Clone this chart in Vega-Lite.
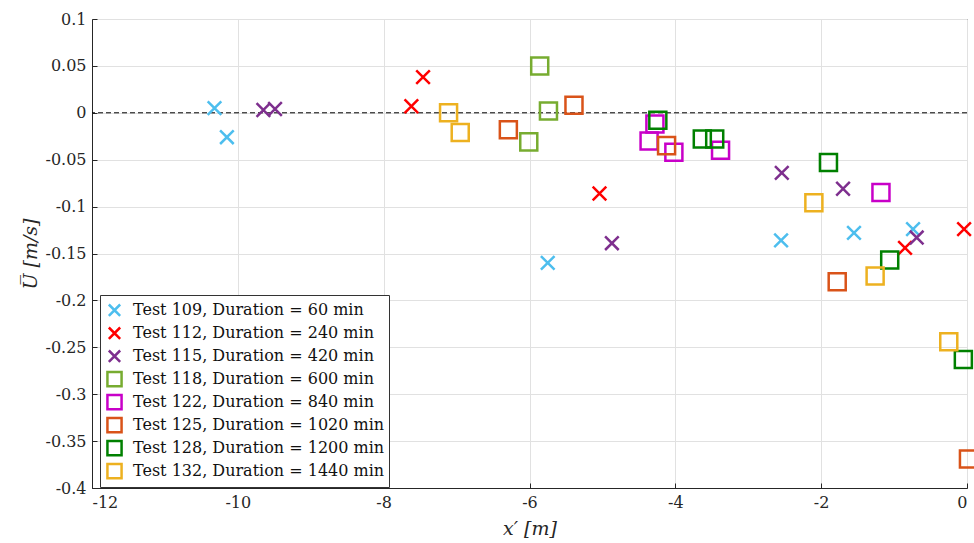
{
  "$schema": "https://vega.github.io/schema/vega-lite/v6.json",
  "width": 875,
  "height": 469,
  "autosize": {"type": "none"},
  "padding": {"left": 92, "top": 19, "right": 7, "bottom": 55},
  "background": "white",
  "config": {
    "view": {"stroke": "#262626", "strokeWidth": 1},
    "font": "DejaVu Serif",
    "axis": {
      "labelFont": "DejaVu Serif",
      "labelFontSize": 16,
      "labelColor": "#262626",
      "titleFont": "DejaVu Serif",
      "titleFontSize": 19,
      "titleFontWeight": "normal",
      "titleFontStyle": "italic",
      "titleColor": "#262626",
      "domainColor": "#262626",
      "tickColor": "#262626",
      "gridColor": "#e1e1e1",
      "gridWidth": 1
    },
    "legend": {
      "labelFont": "DejaVu Serif",
      "labelFontSize": 16,
      "labelColor": "#111111"
    }
  },
  "datasets": {
    "obs": [
      {"series": "Test 109, Duration = 60 min", "x": -10.32, "u": 0.005},
      {"series": "Test 109, Duration = 60 min", "x": -10.15, "u": -0.026},
      {"series": "Test 109, Duration = 60 min", "x": -5.75, "u": -0.160},
      {"series": "Test 109, Duration = 60 min", "x": -2.55, "u": -0.136},
      {"series": "Test 109, Duration = 60 min", "x": -1.55, "u": -0.128},
      {"series": "Test 109, Duration = 60 min", "x": -0.74, "u": -0.124},
      {"series": "Test 112, Duration = 240 min", "x": -7.46, "u": 0.038},
      {"series": "Test 112, Duration = 240 min", "x": -7.62, "u": 0.007},
      {"series": "Test 112, Duration = 240 min", "x": -5.04, "u": -0.086},
      {"series": "Test 112, Duration = 240 min", "x": -0.85, "u": -0.144},
      {"series": "Test 112, Duration = 240 min", "x": -0.04, "u": -0.124},
      {"series": "Test 115, Duration = 420 min", "x": -9.65, "u": 0.003},
      {"series": "Test 115, Duration = 420 min", "x": -9.49, "u": 0.004},
      {"series": "Test 115, Duration = 420 min", "x": -4.87, "u": -0.139},
      {"series": "Test 115, Duration = 420 min", "x": -2.54, "u": -0.064},
      {"series": "Test 115, Duration = 420 min", "x": -1.70, "u": -0.081},
      {"series": "Test 115, Duration = 420 min", "x": -0.69, "u": -0.133},
      {"series": "Test 118, Duration = 600 min", "x": -5.86, "u": 0.050},
      {"series": "Test 118, Duration = 600 min", "x": -5.74, "u": 0.002},
      {"series": "Test 118, Duration = 600 min", "x": -6.01, "u": -0.031},
      {"series": "Test 122, Duration = 840 min", "x": -4.28, "u": -0.012},
      {"series": "Test 122, Duration = 840 min", "x": -4.36, "u": -0.030},
      {"series": "Test 122, Duration = 840 min", "x": -4.02, "u": -0.042},
      {"series": "Test 122, Duration = 840 min", "x": -3.38, "u": -0.040},
      {"series": "Test 122, Duration = 840 min", "x": -1.18, "u": -0.085},
      {"series": "Test 125, Duration = 1020 min", "x": -6.29, "u": -0.018},
      {"series": "Test 125, Duration = 1020 min", "x": -5.39, "u": 0.008},
      {"series": "Test 125, Duration = 1020 min", "x": -4.12, "u": -0.035},
      {"series": "Test 125, Duration = 1020 min", "x": -1.78, "u": -0.180},
      {"series": "Test 125, Duration = 1020 min", "x": 0.02, "u": -0.369},
      {"series": "Test 128, Duration = 1200 min", "x": -4.24, "u": -0.008},
      {"series": "Test 128, Duration = 1200 min", "x": -3.63, "u": -0.028},
      {"series": "Test 128, Duration = 1200 min", "x": -3.46, "u": -0.028},
      {"series": "Test 128, Duration = 1200 min", "x": -1.90, "u": -0.053},
      {"series": "Test 128, Duration = 1200 min", "x": -1.06, "u": -0.157},
      {"series": "Test 128, Duration = 1200 min", "x": -0.05, "u": -0.263},
      {"series": "Test 132, Duration = 1440 min", "x": -7.11, "u": 0.000},
      {"series": "Test 132, Duration = 1440 min", "x": -6.95, "u": -0.021},
      {"series": "Test 132, Duration = 1440 min", "x": -2.10, "u": -0.096},
      {"series": "Test 132, Duration = 1440 min", "x": -1.26, "u": -0.174},
      {"series": "Test 132, Duration = 1440 min", "x": -0.25, "u": -0.244}
    ],
    "zero": [{"u": 0}]
  },
  "layer": [
    {
      "data": {"name": "zero"},
      "mark": {"type": "rule", "color": "black", "strokeWidth": 1, "strokeDash": [5, 3]},
      "encoding": {
        "y": {"field": "u", "type": "quantitative", "scale": {"domain": [-0.4, 0.1], "nice": false}}
      }
    },
    {
      "data": {"name": "obs"},
      "mark": {"type": "point", "filled": false, "strokeWidth": 2.5, "size": 290, "opacity": 1, "clip": false},
      "encoding": {
        "x": {
          "field": "x",
          "type": "quantitative",
          "scale": {"domain": [-12, 0], "nice": false, "zero": false},
          "axis": {
            "title": "x′ [m]",
            "values": [-12, -10, -8, -6, -4, -2, 0],
            "tickSize": -5,
            "labelPadding": 11,
            "titlePadding": 9,
            "format": "~g",
            "labelExpr": "replace(datum.label, '−', '-')"
          }
        },
        "y": {
          "field": "u",
          "type": "quantitative",
          "scale": {"domain": [-0.4, 0.1], "nice": false, "zero": false},
          "axis": {
            "title": "U̅ [m/s]",
            "values": [-0.4, -0.35, -0.3, -0.25, -0.2, -0.15, -0.1, -0.05, 0, 0.05, 0.1],
            "tickSize": -5,
            "labelPadding": 11,
            "titlePadding": 4,
            "format": "~g",
            "labelExpr": "replace(datum.label, '−', '-')"
          }
        },
        "color": {
          "field": "series",
          "type": "nominal",
          "scale": {
            "domain": [
              "Test 109, Duration = 60 min",
              "Test 112, Duration = 240 min",
              "Test 115, Duration = 420 min",
              "Test 118, Duration = 600 min",
              "Test 122, Duration = 840 min",
              "Test 125, Duration = 1020 min",
              "Test 128, Duration = 1200 min",
              "Test 132, Duration = 1440 min"
            ],
            "range": ["#4DBEEE", "#FF0000", "#7E2F8E", "#77AC30", "#C800C8", "#D95319", "#008000", "#EDB120"]
          },
          "legend": {
            "title": null,
            "orient": "none",
            "legendX": 8,
            "legendY": 276,
            "fillColor": "white",
            "strokeColor": "#333333",
            "padding": 4,
            "rowPadding": 0,
            "clipHeight": 22.3,
            "symbolSize": 200,
            "symbolStrokeWidth": 2.5,
            "symbolOffset": 2,
            "labelOffset": 10,
            "labelLimit": 0
          }
        },
        "shape": {
          "field": "series",
          "type": "nominal",
          "scale": {
            "domain": [
              "Test 109, Duration = 60 min",
              "Test 112, Duration = 240 min",
              "Test 115, Duration = 420 min",
              "Test 118, Duration = 600 min",
              "Test 122, Duration = 840 min",
              "Test 125, Duration = 1020 min",
              "Test 128, Duration = 1200 min",
              "Test 132, Duration = 1440 min"
            ],
            "range": [
              "M-0.8,-0.8L0.8,0.8M0.8,-0.8L-0.8,0.8",
              "M-0.8,-0.8L0.8,0.8M0.8,-0.8L-0.8,0.8",
              "M-0.8,-0.8L0.8,0.8M0.8,-0.8L-0.8,0.8",
              "square",
              "square",
              "square",
              "square",
              "square"
            ]
          }
        }
      }
    }
  ]
}
